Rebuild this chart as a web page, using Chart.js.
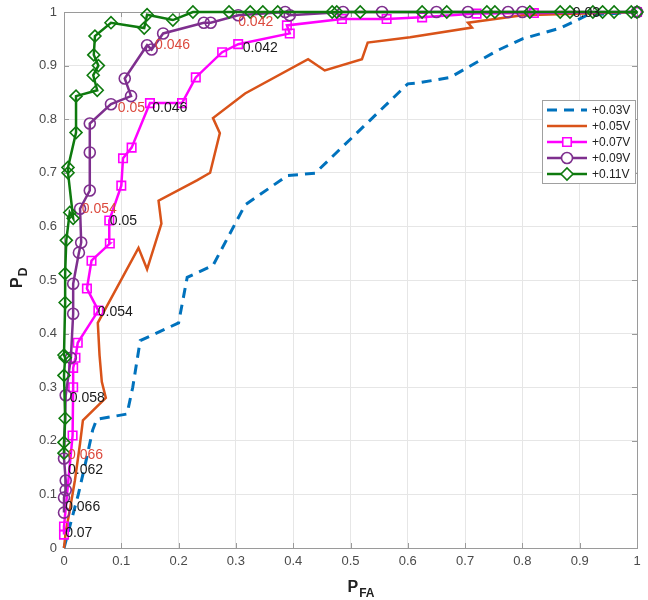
<!DOCTYPE html>
<html>
<head>
<meta charset="utf-8">
<script src="https://cdn.jsdelivr.net/npm/chart.js@4.4.1/dist/chart.umd.min.js"></script>
<style>
  html, body { margin: 0; padding: 0; background: #fff; }
  #wrap { width: 648px; height: 600px; position: relative; }
</style>
</head>
<body>
<div id="wrap"><canvas id="roc"></canvas></div>
<script>
// ---- datos (PFA, PD) ----
const pfa03 = [0, 0.01, 0.025, 0.04, 0.05, 0.057, 0.11, 0.12, 0.133, 0.18, 0.2, 0.215, 0.26, 0.316, 0.39, 0.438, 0.6, 0.62, 0.674, 0.756, 0.8, 0.866, 0.913, 1];
const pd03  = [0, 0.04, 0.1, 0.17, 0.22, 0.24, 0.25, 0.3, 0.387, 0.41, 0.42, 0.505, 0.527, 0.64, 0.695, 0.699, 0.866, 0.868, 0.878, 0.928, 0.95, 0.97, 0.994, 1];

const pfa05 = [0, 0.003, 0.01, 0.019, 0.028, 0.033, 0.073, 0.066, 0.062, 0.059, 0.13, 0.145, 0.17, 0.165, 0.232, 0.255, 0.272, 0.26, 0.316, 0.426, 0.455, 0.52, 0.53, 0.604, 0.712, 0.705, 0.8, 1];
const pd05  = [0, 0.03, 0.07, 0.126, 0.195, 0.238, 0.28, 0.31, 0.36, 0.42, 0.56, 0.52, 0.605, 0.648, 0.686, 0.7, 0.774, 0.802, 0.848, 0.912, 0.891, 0.912, 0.943, 0.953, 0.971, 0.98, 0.994, 1];

const pfa07 = [0, 0, 0.015, 0.016, 0.016, 0.02, 0.024, 0.06, 0.04, 0.048, 0.08, 0.079, 0.1, 0.103, 0.118, 0.15, 0.206, 0.23, 0.276, 0.304, 0.394, 0.389, 0.485, 0.563, 0.625, 0.72, 0.82, 1];
const pd07  = [0.025, 0.04, 0.21, 0.3, 0.336, 0.355, 0.383, 0.443, 0.484, 0.536, 0.568, 0.611, 0.676, 0.727, 0.747, 0.83, 0.83, 0.878, 0.925, 0.94, 0.96, 0.975, 0.987, 0.987, 0.99, 0.997, 0.998, 1];

const pfa09 = [0, 0, 0.003, 0.003, 0, 0.003, 0.012, 0.016, 0.016, 0.026, 0.03, 0.028, 0.045, 0.045, 0.045, 0.082, 0.117, 0.106, 0.145, 0.153, 0.173, 0.244, 0.256, 0.304, 0.386, 0.394, 0.487, 0.555, 0.65, 0.705, 0.775, 0.8, 1];
const pd09  = [0.066, 0.094, 0.108, 0.126, 0.167, 0.285, 0.355, 0.437, 0.493, 0.551, 0.57, 0.633, 0.667, 0.738, 0.792, 0.828, 0.843, 0.876, 0.938, 0.93, 0.96, 0.98, 0.98, 0.994, 1, 0.994, 1, 1, 1, 1, 1, 1, 1];

const pfa11 = [0, 0, 0.002, 0, 0.002, 0, 0.002, 0.002, 0.004, 0.01, 0.016, 0.007, 0.007, 0.021, 0.021, 0.058, 0.051, 0.06, 0.052, 0.054, 0.082, 0.14, 0.145, 0.19, 0.225, 0.288, 0.325, 0.347, 0.373, 0.468, 0.476, 0.517, 0.625, 0.668, 0.738, 0.752, 0.813, 0.866, 0.883, 0.923, 0.94, 0.96, 0.99, 1];
const pd11  = [0.177, 0.197, 0.242, 0.322, 0.355, 0.36, 0.458, 0.512, 0.574, 0.626, 0.615, 0.7, 0.71, 0.775, 0.843, 0.854, 0.882, 0.9, 0.92, 0.955, 0.98, 0.97, 0.995, 0.985, 1, 1, 1, 1, 1, 1, 1, 1, 1, 1, 1, 1, 1, 1, 1, 1, 1, 1, 1, 1];

const seriesNames = ["+0.03V", "+0.05V", "+0.07V", "+0.09V", "+0.11V"];

// umbrales anotados junto a las curvas
const thrText = ["0.03", "0.042", "0.042", "0.046", "0.046", "0.05", "0.054", "0.05", "0.054", "0.058", "0.066", "0.062", "0.066", "0.07"];
const thrX    = [0.888, 0.304, 0.312, 0.159, 0.154, 0.094, 0.031, 0.08, 0.059, 0.01, 0.007, 0.007, 0.002, 0.002];
const thrY    = [0.998, 0.981, 0.932, 0.938, 0.82, 0.82, 0.632, 0.609, 0.44, 0.28, 0.173, 0.145, 0.076, 0.027];
const thrRed  = [false, true, false, true, false, true, true, false, false, false, true, false, false, false];

const FONT = "'Liberation Sans', Arial, sans-serif";

function pts(xs, ys) {
  return xs.map((x, i) => ({ x: x, y: ys[i] }));
}

// ======================
// Plugin: caja, ticks internos, titulos de ejes, umbrales y leyenda
// ======================
const extras = {
  id: "extras",
  beforeDatasetsDraw(chart) {
    const { ctx, chartArea: a } = chart;
    const xs = chart.scales.x, ys = chart.scales.y;
    ctx.save();
    ctx.strokeStyle = "#9a9a9a";
    ctx.lineWidth = 1;
    for (let v = 0; v <= 10; v++) {
      const px = Math.round(xs.getPixelForValue(v / 10)) + 0.5;
      const py = Math.round(ys.getPixelForValue(v / 10)) + 0.5;
      ctx.beginPath();
      ctx.moveTo(px, a.bottom); ctx.lineTo(px, a.bottom - 5);
      ctx.moveTo(px, a.top); ctx.lineTo(px, a.top + 5);
      ctx.moveTo(a.left, py); ctx.lineTo(a.left + 5, py);
      ctx.moveTo(a.right, py); ctx.lineTo(a.right - 5, py);
      ctx.stroke();
    }
    ctx.strokeRect(Math.round(a.left) + 0.5, Math.round(a.top) + 0.5, Math.round(a.right - a.left), Math.round(a.bottom - a.top));
    ctx.restore();
  },
  afterDatasetsDraw(chart) {
    const { ctx, chartArea: a } = chart;
    const xs = chart.scales.x, ys = chart.scales.y;
    ctx.save();

    // etiquetas de umbral
    ctx.font = "14px " + FONT;
    ctx.textBaseline = "middle";
    ctx.textAlign = "left";
    thrText.forEach((t, i) => {
      ctx.fillStyle = thrRed[i] ? "#dc4a3e" : "#1a1a1a";
      ctx.fillText(t, xs.getPixelForValue(thrX[i]), ys.getPixelForValue(thrY[i]));
    });

    // leyenda
    const bw = 93, bh = 83;
    const bx = a.right - bw - 2, by = a.top + 88;
    ctx.fillStyle = "#fff";
    ctx.fillRect(bx, by, bw, bh);
    ctx.strokeStyle = "#a0a0a0";
    ctx.lineWidth = 1;
    ctx.strokeRect(bx + 0.5, by + 0.5, bw, bh);
    ctx.font = "12px " + FONT;
    chart.data.datasets.forEach((ds, i) => {
      const yy = by + 10 + i * 16;
      ctx.save();
      ctx.strokeStyle = ds.borderColor;
      ctx.lineWidth = ds.borderWidth;
      ctx.setLineDash(ds.borderDash || []);
      ctx.beginPath();
      ctx.moveTo(bx + 5, yy); ctx.lineTo(bx + 45, yy);
      ctx.stroke();
      ctx.restore();
      if (ds.pointRadius > 0) {
        ctx.save();
        ctx.strokeStyle = ds.borderColor;
        ctx.fillStyle = "#fff";
        ctx.lineWidth = ds.pointBorderWidth;
        Chart.helpers.drawPoint(ctx, { pointStyle: ds.pointStyle, radius: ds.pointRadius, rotation: 0, borderWidth: ds.pointBorderWidth }, bx + 25, yy);
        ctx.restore();
      }
      ctx.fillStyle = "#222";
      ctx.fillText(ds.label, bx + 50, yy + 1);
    });

    // titulos de ejes con subindice
    ctx.fillStyle = "#222";
    ctx.textBaseline = "alphabetic";
    const cx = (a.left + a.right) / 2;
    ctx.font = "bold 16px " + FONT;
    const wP = ctx.measureText("P").width;
    ctx.fillText("P", cx - 3, 592);
    ctx.font = "bold 12px " + FONT;
    ctx.fillText("FA", cx - 3 + wP + 1, 597);

    const cy = (a.top + a.bottom) / 2;
    ctx.translate(22, cy + 8);
    ctx.rotate(-Math.PI / 2);
    ctx.font = "bold 16px " + FONT;
    ctx.fillText("P", 0, 0);
    ctx.font = "bold 12px " + FONT;
    ctx.fillText("D", wP + 1, 5);
    ctx.restore();
  }
};

function makeDs(label, data, color, opts) {
  return Object.assign({
    label: label,
    data: data,
    showLine: true,
    borderColor: color,
    backgroundColor: "rgba(0,0,0,0)",
    borderWidth: 2.5,
    pointRadius: 0,
    pointBorderWidth: 1.6,
    pointBackgroundColor: "rgba(0,0,0,0)",
    pointBorderColor: color,
    tension: 0,
    clip: false
  }, opts);
}

const datasets = [
  makeDs(seriesNames[0], pts(pfa03, pd03), "#0072BD", { borderWidth: 3, borderDash: [10, 7], order: 4 }),
  makeDs(seriesNames[1], pts(pfa05, pd05), "#D95319", { order: 3 }),
  makeDs(seriesNames[2], pts(pfa07, pd07), "#FF00FF", { pointStyle: "rect", pointRadius: 6, order: 2 }),
  makeDs(seriesNames[3], pts(pfa09, pd09), "#7E2F8E", { pointStyle: "circle", pointRadius: 5.5, order: 1 }),
  makeDs(seriesNames[4], pts(pfa11, pd11), "#0E7A0E", { pointStyle: "rectRot", pointRadius: 6, order: 0 })
];

const tickFmt = v => String(Math.round(v * 10) / 10);

new Chart(document.getElementById("roc"), {
  type: "scatter",
  data: { datasets },
  options: {
    responsive: true,
    maintainAspectRatio: false,
    animation: false,
    devicePixelRatio: 1,
    layout: { padding: { left: 0, right: 11, top: 12, bottom: 0 } },
    plugins: { legend: { display: false }, tooltip: { enabled: false } },
    scales: {
      x: {
        type: "linear", min: 0, max: 1,
        afterFit: s => { s.height = 52; s.paddingLeft = 0; s.paddingRight = 0; },
        ticks: { stepSize: 0.1, padding: 6, color: "#4a4a4a", font: { family: FONT, size: 13 }, callback: tickFmt },
        grid: { color: "#e6e6e6", drawTicks: false },
        border: { display: false }
      },
      y: {
        type: "linear", min: 0, max: 1,
        afterFit: s => { s.width = 64; s.paddingTop = 0; s.paddingBottom = 0; },
        ticks: { stepSize: 0.1, padding: 7, color: "#4a4a4a", font: { family: FONT, size: 13 }, callback: tickFmt },
        grid: { color: "#e6e6e6", drawTicks: false },
        border: { display: false }
      }
    }
  },
  plugins: [extras]
});
</script>
</body>
</html>
